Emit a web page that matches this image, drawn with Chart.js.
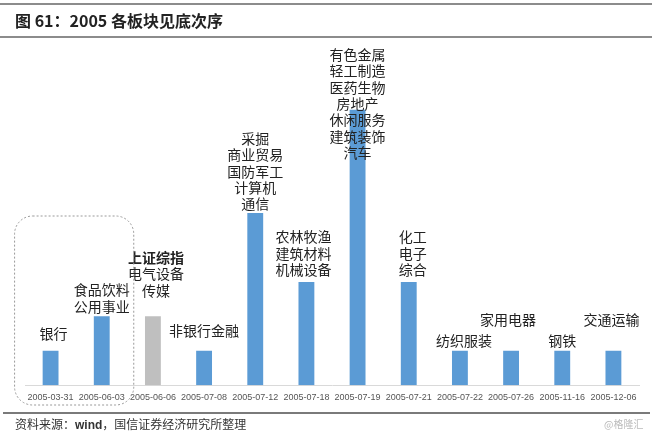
<!DOCTYPE html>
<html>
<head>
<meta charset="utf-8">
<script src="https://cdn.jsdelivr.net/npm/chart.js@4/dist/chart.umd.min.js"></script>
<style>
  body { margin: 0; background: #fff; }
  #wrap { position: relative; width: 652px; height: 435px; background: #fff; overflow: hidden; }
  #wrap canvas { position: absolute; left: 0; top: 0; }
  .rule { position: absolute; left: 0; width: 652px; height: 1.5px; background: #8c8c8c; }
  #title { position: absolute; left: 15px; top: 12px; font: bold 16px/17px "Noto Sans CJK SC", sans-serif; color: #222; white-space: nowrap; }
  #footRule { position: absolute; left: 3px; width: 647px; top: 412px; height: 2px; background: #7a7a7a; }
  #source { position: absolute; left: 15px; top: 417px; font: 12px/13px "Noto Sans CJK SC", sans-serif; color: #333; white-space: nowrap; }
  #mark { position: absolute; left: 604px; top: 418px; font: 10px/11px "Noto Sans CJK SC", sans-serif; color: #bbb; white-space: nowrap; }
</style>
</head>
<body>
<div id="wrap">
  <canvas id="bottoms_chart" width="652" height="435"></canvas>
  <div class="rule" style="top:3px"></div>
  <div id="title">图 61：2005 各板块见底次序</div>
  <div class="rule" style="top:36px"></div>
  <div id="footRule"></div>
  <div id="source">资料来源：<b style="font-family:'Liberation Sans',sans-serif">wind</b>，国信证券经济研究所整理</div>
  <div id="mark">@格隆汇</div>
</div>
<script>
  // dates on which sectors bottomed out in 2005
  const dates = ['2005-03-31', '2005-06-03', '2005-06-06', '2005-07-08', '2005-07-12', '2005-07-18',
    '2005-07-19', '2005-07-21', '2005-07-22', '2005-07-26', '2005-11-16', '2005-12-06'];

  // bar heights
  const barValues = [1, 2, 2, 1, 5, 3, 8, 3, 1, 1, 1, 1];

  // sectors written above each bar (first line on top)
  const sectorNames = [
    ['银行'],
    ['食品饮料', '公用事业'],
    ['上证综指', '电气设备', '传媒'],
    ['非银行金融'],
    ['采掘', '商业贸易', '国防军工', '计算机', '通信'],
    ['农林牧渔', '建筑材料', '机械设备'],
    ['有色金属', '轻工制造', '医药生物', '房地产', '休闲服务', '建筑装饰', '汽车'],
    ['化工', '电子', '综合'],
    ['纺织服装'],
    ['家用电器'],
    ['钢铁'],
    ['交通运输']
  ];

  // the market index bottom is drawn in gray
  const indexDate = '2005-06-06';

  const blue = '#5b9bd5';
  const gray = '#bfbfbf';

  // gap (px) between bar top and the centre of the lowest label line
  const labelLift = [17, 10, 26, 20, 9, 12, -43, 12, 10, 31, 10, 31];
  const labelShift = [3, 0, 3, 0, 0, -3, 0, 4, 4, -3, 0, -2];

  const sectorLabelPlugin = {
    id: 'sectorLabels',
    afterDatasetsDraw(chart) {
      const ctx = chart.ctx;
      const bars = chart.getDatasetMeta(0).data;
      ctx.save();
      ctx.textAlign = 'center';
      ctx.textBaseline = 'middle';
      ctx.fillStyle = '#222';
      bars.forEach((bar, i) => {
        const lines = sectorNames[i];
        const bottomY = bar.y - labelLift[i];
        lines.forEach((text, j) => {
          const y = bottomY - (lines.length - 1 - j) * 16.4;
          const bold = dates[i] === indexDate && j === 0;
          ctx.font = (bold ? 'bold ' : '') + '14px "Noto Sans CJK SC", sans-serif';
          ctx.fillText(text, bar.x + labelShift[i], y);
        });
      });
      ctx.restore();
    }
  };

  // dotted rounded frame around the first two bottoms
  const frameBoxPlugin = {
    id: 'frameBox',
    afterDatasetsDraw(chart) {
      const ctx = chart.ctx;
      const x = chart.scales.x;
      const left = x.getPixelForValue(0) - 36;
      const right = x.getPixelForValue(1) + 32;
      const top = 216, bottom = 405, r = 18;
      ctx.save();
      ctx.strokeStyle = '#9a9a9a';
      ctx.lineWidth = 1;
      ctx.setLineDash([2, 2]);
      ctx.beginPath();
      ctx.roundRect(left, top, right - left, bottom - top, r);
      ctx.stroke();
      ctx.restore();
    }
  };

  new Chart(document.getElementById('bottoms_chart'), {
    type: 'bar',
    data: {
      labels: dates,
      datasets: [{
        data: barValues,
        backgroundColor: dates.map(d => d === indexDate ? gray : blue),
        borderWidth: 0,
        barPercentage: 0.62,
        categoryPercentage: 0.5
      }]
    },
    options: {
      responsive: false,
      animation: false,
      layout: { padding: { top: 41, bottom: 25, left: 25, right: 13 } },
      plugins: {
        legend: { display: false },
        tooltip: { enabled: false }
      },
      scales: {
        y: {
          display: false,
          min: 0,
          max: 10
        },
        x: {
          grid: { display: false, drawTicks: false },
          border: { display: true, color: '#d9d9d9', width: 1 },
          ticks: {
            color: '#555',
            padding: 7,
            maxRotation: 0,
            autoSkip: false,
            font: { family: 'Liberation Sans', size: 9 }
          }
        }
      }
    },
    plugins: [sectorLabelPlugin, frameBoxPlugin]
  });
</script>
</body>
</html>
